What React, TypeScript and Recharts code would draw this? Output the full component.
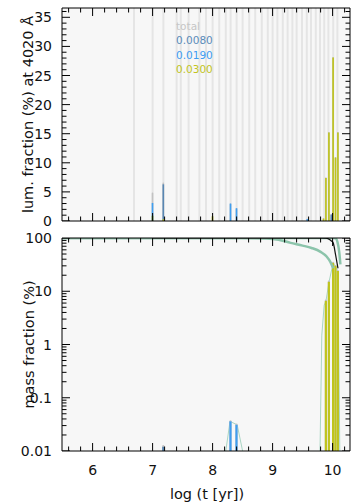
import React from 'react';
import { ComposedChart, Bar, Line, Scatter, XAxis, YAxis, ReferenceLine, Legend } from 'recharts';

const FONT = "'DejaVu Sans', 'Liberation Sans', sans-serif";

// ---- axes ----
const X_DOMAIN: [number, number] = [5.49, 10.29];
const X_TICKS = [5.6, 5.8, 6, 6.2, 6.4, 6.6, 6.8, 7, 7.2, 7.4, 7.6, 7.8, 8, 8.2, 8.4, 8.6, 8.8, 9, 9.2, 9.4, 9.6, 9.8, 10, 10.2];
const X_LABELS = [6, 7, 8, 9, 10];

const LUM_DOMAIN: [number, number] = [0, 36.6];
const LUM_TICKS = [0, 1, 2, 3, 4, 5, 6, 7, 8, 9, 10, 11, 12, 13, 14, 15, 16, 17, 18, 19, 20, 21, 22, 23, 24, 25, 26, 27, 28, 29, 30, 31, 32, 33, 34, 35, 36];
const LUM_LABELS = [0, 5, 10, 15, 20, 25, 30, 35];

const MASS_DOMAIN: [number, number] = [0.01, 100];
const MASS_TICKS = [
  0.01, 0.02, 0.03, 0.04, 0.05, 0.06, 0.07, 0.08, 0.09,
  0.1, 0.2, 0.3, 0.4, 0.5, 0.6, 0.7, 0.8, 0.9,
  1, 2, 3, 4, 5, 6, 7, 8, 9,
  10, 20, 30, 40, 50, 60, 70, 80, 90, 100,
];
const MASS_LABELS = [0.01, 0.1, 1, 10, 100];

// ---- SSP age grid (log t) ----
const AGE_GRID = [6.69, 7.0, 7.18, 7.4, 7.47, 7.6, 7.78, 7.89, 8.0, 8.11, 8.22, 8.3, 8.4, 8.5, 8.61, 8.71, 8.82, 8.92, 9.0, 9.08, 9.17, 9.25, 9.33, 9.4, 9.49, 9.57, 9.64, 9.72, 9.79, 9.86, 9.93, 10.01, 10.08];

// ---- luminosity fractions (%) ----
const LUM_AGES = [7.0, 7.18, 8.0, 8.3, 8.4, 9.58, 9.85, 9.89, 9.94, 9.98, 10.01, 10.05, 10.09];
const LUM_TOTAL = [4.9, 6.6, 0.9, 3.0, 2.2, 0.4, 0.5, 7.5, 15.3, 1.2, 28.2, 11.0, 15.3];
const LUM_Z0080 = [0.9, 6.3, null, null, null, null, null, null, null, 1.1, null, null, null];
const LUM_Z0190 = [3.1, null, null, 3.0, 2.2, 0.35, null, null, null, null, null, null, null];
const LUM_Z0300 = [0.9, 0.3, 0.8, null, null, null, 0.4, 7.4, 15.2, null, 28.1, 10.9, 15.2];

// ---- mass fractions (%) ----
const MASS_AGES = [7.18, 8.3, 8.4, 9.89, 9.94, 10.01, 10.05, 10.09];
const MASS_TOTAL = [0.013, 0.038, 0.033, 7.0, 16, 36, 31, 25];
const MASS_Z0080 = [0.012, null, null, null, null, null, null, null];
const MASS_Z0190 = [null, 0.036, 0.031, null, null, null, null, null];
const MASS_Z0300 = [null, null, null, 6.6, 15, 34, 30, 24];

// cumulative / smoothed curves in the mass panel
const CUM_TOTAL_AGES = [7.0, 9.8, 9.89, 9.94, 9.98, 10.01, 10.05, 10.09];
const CUM_TOTAL_VALS = [100, 100, 99.6, 95, 88, 81, 48, 27];
const CUM_A_AGES = [5.49, 8.0, 8.5, 8.9, 9.1, 9.3, 9.5, 9.65, 9.8, 9.9, 9.96, 10.01];
const CUM_A_VALS = [100, 99.9, 99.5, 98, 93, 81, 72, 65, 55, 45, 36, 27];
const CUM_B_AGES = [5.49, 10.01, 10.05, 10.08, 10.11, 10.13];
const CUM_B_VALS = [100, 99.8, 99, 85, 55, 32];
const SMOOTH_AGES = [8.22, 8.29, 8.41, 8.5, 9.0, 9.79, 9.82, 9.86, 9.89, 9.94, 10.01, 10.09, 10.12];
const SMOOTH_VALS = [0.01, 0.036, 0.031, 0.01, null, 0.01, 1.5, 5.5, 6.6, 15, 34, 24, 0.01];

const LEGEND_NAMES = ['total', '0.0080', '0.0190', '0.0300'];
const LEGEND_COLORS = ['#c6c6c6', '#5b8cba', '#3d9df2', '#c1c41f'];
const BAR_COLORS = ['#c2c2c2', '#5987b3', '#3f9ef0', '#bfc41c'];
const BAR_KEYS = ['total', 'z0080', 'z0190', 'z0300'];
const LUM_BAR_WIDTHS = [4.5, 2.6, 2.6, 2.6];
const MASS_BAR_WIDTHS = [5, 3, 3, 3];

const LUM_ROWS = LUM_AGES.map((a, i) => ({ age: a, total: LUM_TOTAL[i], z0080: LUM_Z0080[i], z0190: LUM_Z0190[i], z0300: LUM_Z0300[i] }));
const MASS_ROWS = MASS_AGES.map((a, i) => ({ age: a, total: MASS_TOTAL[i], z0080: MASS_Z0080[i], z0190: MASS_Z0190[i], z0300: MASS_Z0300[i] }));
const pts = (ages: number[], vals: (number | null)[]) => ages.map((a, i) => ({ age: a, v: vals[i] }));
const CUM_TOTAL = pts(CUM_TOTAL_AGES, CUM_TOTAL_VALS);
const CUM_A = pts(CUM_A_AGES, CUM_A_VALS);
const CUM_B = pts(CUM_B_AGES, CUM_B_VALS);
const SMOOTH = pts(SMOOTH_AGES, SMOOTH_VALS);

const isIn = (v: number, list: number[]) => list.some((l) => Math.abs(l - v) <= 1e-9 * Math.max(1, Math.abs(l)));

// tick-mark anchor points on the four frame sides (drawn through the chart scales)
const xTickPts = (yVal: number) => X_TICKS.map((t) => ({ age: t, v: yVal, major: isIn(t, X_LABELS) }));
const yTickPts = (xVal: number, ticks: number[], labels: number[]) => ticks.map((t) => ({ age: xVal, v: t, major: isIn(t, labels) }));

// layout of the two plot boxes
const PLOT_LEFT = 62;
const PLOT_RIGHT = 350;
const PANEL_TOP = 8;
const PANEL_BOTTOM = 221;
const MAJOR_LEN = 8;
const MINOR_LEN = 4.5;

function TickMark(props: any) {
  const { cx, cy, payload, dir } = props;
  if (cx == null || cy == null || isNaN(cx) || isNaN(cy)) return null;
  const len = payload && payload.major ? MAJOR_LEN : MINOR_LEN;
  const dx = dir === 'right' ? 1 : dir === 'left' ? -1 : 0;
  const dy = dir === 'down' ? 1 : dir === 'up' ? -1 : 0;
  return <line x1={cx} y1={cy} x2={cx + dx * len} y2={cy + dy * len} stroke="#000" strokeWidth={1} />;
}

function XLabel(props: any) {
  const { x, payload } = props;
  return (
    <text x={x} y={PANEL_BOTTOM + 19} textAnchor="middle" dominantBaseline="central" fontFamily={FONT} fontSize={14} fill="#111">
      {payload.value}
    </text>
  );
}

function YLabel(props: any) {
  const { y, payload } = props;
  return (
    <text x={PLOT_LEFT - 10} y={y} textAnchor="end" dominantBaseline="central" fontFamily={FONT} fontSize={14} fill="#111">
      {payload.value}
    </text>
  );
}

function RotLabel(props: any) {
  const { cx, cy, text } = props;
  return (
    <text x={cx} y={cy} transform={`rotate(-90 ${cx} ${cy})`} textAnchor="middle" dominantBaseline="central" fontFamily={FONT} fontSize={14.5} fill="#111">
      {text}
    </text>
  );
}

function FlatLabel(props: any) {
  const { cx, cy, text } = props;
  return (
    <text x={cx} y={cy} textAnchor="middle" dominantBaseline="central" fontFamily={FONT} fontSize={14.5} fill="#111">
      {text}
    </text>
  );
}

const LegendBox = () => (
  <div style={{ fontFamily: FONT, fontSize: 10.5, lineHeight: '14.3px' }}>
    {LEGEND_NAMES.map((n, i) => (
      <div key={n} style={{ color: LEGEND_COLORS[i], whiteSpace: 'nowrap' }}>{n}</div>
    ))}
  </div>
);

function frame(domain: [number, number], ticks: number[], labels: number[], log: boolean, xLabels: boolean, yLabel: React.ReactElement) {
  const scale = log ? 'log' : 'linear';
  return [
    <XAxis key="x" xAxisId="x" dataKey="age" type="number" domain={X_DOMAIN} allowDataOverflow ticks={X_LABELS} interval={0} height={1}
      tickSize={0} tickMargin={0} tickLine={false} axisLine={{ stroke: '#000' }} tick={xLabels ? <XLabel /> : false} />,
    <XAxis key="xt" xAxisId="xt" orientation="top" dataKey="age" type="number" domain={X_DOMAIN} allowDataOverflow ticks={X_LABELS} interval={0} height={1}
      tickSize={0} tickMargin={0} tickLine={false} axisLine={{ stroke: '#000' }} tick={false} />,
    <YAxis key="y" yAxisId="y" type="number" scale={scale} domain={domain} allowDataOverflow ticks={labels} interval={0} width={1}
      tickSize={0} tickMargin={0} tickLine={false} axisLine={{ stroke: '#000' }} tick={<YLabel />} label={yLabel} />,
    <YAxis key="yr" yAxisId="yr" orientation="right" type="number" scale={scale} domain={domain} allowDataOverflow ticks={labels} interval={0} width={1}
      tickSize={0} tickMargin={0} tickLine={false} axisLine={{ stroke: '#000' }} tick={false} />,
    ...BAR_KEYS.map((k) => (
      <XAxis key={'ax' + k} xAxisId={'b' + k} orientation="top" height={0} dataKey="age" type="number" domain={X_DOMAIN} allowDataOverflow hide />
    )),
  ];
}

function tickMarks(domain: [number, number], ticks: number[], labels: number[]) {
  const sides: [string, any[]][] = [
    ['up', xTickPts(domain[0])],
    ['down', xTickPts(domain[1])],
    ['right', yTickPts(X_DOMAIN[0], ticks, labels)],
    ['left', yTickPts(X_DOMAIN[1], ticks, labels)],
  ];
  return sides.map(([dir, data]) => (
    <Scatter key={'tm' + dir} xAxisId="x" yAxisId="y" data={data} dataKey="v" shape={<TickMark dir={dir} />} isAnimationActive={false} legendType="none" />
  ));
}

function bars(widths: number[]) {
  return BAR_KEYS.map((k, i) => (
    <Bar
      key={'bar' + k}
      xAxisId={'b' + k}
      yAxisId="y"
      dataKey={k}
      fill={BAR_COLORS[i]}
      barSize={widths[i]}
      radius={i === 0 ? [2, 2, 0, 0] : 0}
      isAnimationActive={false}
    />
  ));
}

const plotBg = (top: number) => ({
  position: 'absolute' as const,
  left: PLOT_LEFT,
  top: top + PANEL_TOP,
  width: PLOT_RIGHT - PLOT_LEFT,
  height: PANEL_BOTTOM - PANEL_TOP,
  background: '#f7f7f7',
});

const MARGIN_TOP = { top: PANEL_TOP - 1, right: 356 - PLOT_RIGHT - 1, bottom: 230 - PANEL_BOTTOM - 1, left: PLOT_LEFT - 1 };
const MARGIN_BOTTOM = { top: PANEL_TOP - 1, right: 356 - PLOT_RIGHT - 1, bottom: 272 - PANEL_BOTTOM - 1, left: PLOT_LEFT - 1 };

export default function App() {
  return (
    <div style={{ position: 'absolute', left: 0, top: 0, width: 356, height: 502, background: '#fff', overflow: 'hidden' }}>
      <div style={plotBg(0)} />
      <div style={plotBg(230)} />
      <div style={{ position: 'absolute', left: 0, top: 0 }}>
        <ComposedChart width={356} height={230} data={LUM_ROWS} margin={MARGIN_TOP}>
          {frame(LUM_DOMAIN, LUM_TICKS, LUM_LABELS, false, false, <RotLabel cx={28} cy={114.5} text="lum. fraction (%) at 4020 Å" />)}
          {AGE_GRID.map((a) => (
            <ReferenceLine key={'g' + a} xAxisId="x" yAxisId="y" x={a} stroke="#e5e5e5" strokeWidth={2} zIndex={-50} />
          ))}
          {bars(LUM_BAR_WIDTHS)}
          {tickMarks(LUM_DOMAIN, LUM_TICKS, LUM_LABELS)}
          <Legend layout="horizontal" verticalAlign="middle" align="center" width={60} height={58}
            wrapperStyle={{ left: 176, top: 19, width: 60, height: 58 }} content={() => <LegendBox />} />
        </ComposedChart>
      </div>
      <div style={{ position: 'absolute', left: 0, top: 230 }}>
        <ComposedChart width={356} height={272} data={MASS_ROWS} margin={MARGIN_BOTTOM}>
          {frame(MASS_DOMAIN, MASS_TICKS, MASS_LABELS, true, true, <RotLabel cx={29} cy={114.5} text="mass fraction (%)" />)}
          <Line xAxisId="x" yAxisId="y" data={SMOOTH} dataKey="v" type="linear" stroke="#a9d5c3" strokeWidth={1} dot={false} isAnimationActive={false} zIndex={250} />
          {bars(MASS_BAR_WIDTHS)}
          <Line xAxisId="x" yAxisId="y" data={CUM_A} dataKey="v" type="monotone" stroke="#8cc4ab" strokeWidth={2.5} dot={false} isAnimationActive={false} />
          <Line xAxisId="x" yAxisId="y" data={CUM_B} dataKey="v" type="monotone" stroke="#8cc4ab" strokeWidth={2.5} dot={false} isAnimationActive={false} />
          <Line xAxisId="x" yAxisId="y" data={CUM_TOTAL} dataKey="v" type="monotone" stroke="#111" strokeWidth={1.2} dot={false} isAnimationActive={false} />
          {tickMarks(MASS_DOMAIN, MASS_TICKS, MASS_LABELS)}
          <FlatLabel cx={207} cy={264} text="log (t [yr])" />
        </ComposedChart>
      </div>
    </div>
  );
}
